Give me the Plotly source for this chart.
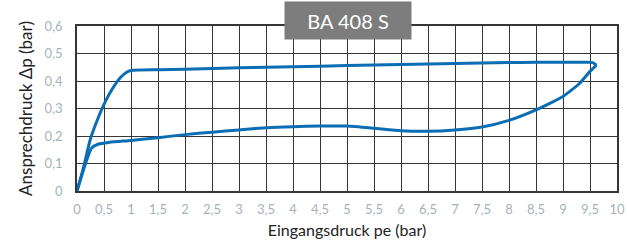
import plotly.graph_objects as go

# Upper branch (origin -> steep rise -> plateau -> tip)
upper_x = [0, 0.12, 0.25, 0.4, 0.5, 0.65, 0.8, 0.92, 1.0, 1.5, 2, 3, 4, 5, 6, 7, 8, 8.5, 9, 9.4, 9.55, 9.62]
upper_y = [0, 0.085, 0.19, 0.27, 0.315, 0.37, 0.412, 0.432, 0.438, 0.441, 0.443, 0.448, 0.452, 0.456, 0.460, 0.464, 0.467, 0.468, 0.468, 0.468, 0.467, 0.458]
# Lower branch (tip -> back to origin)
lower_x = [9.62, 9.5, 9.3, 9.0, 8.5, 8.0, 7.5, 7.0, 6.5, 6.0, 5.5, 5.0, 4.5, 4.0, 3.5, 3.0, 2.5, 2.0, 1.5, 1.0, 0.6, 0.4, 0.27, 0]
lower_y = [0.458, 0.435, 0.39, 0.344, 0.295, 0.257, 0.233, 0.222, 0.217, 0.219, 0.228, 0.236, 0.236, 0.234, 0.230, 0.222, 0.214, 0.205, 0.194, 0.184, 0.177, 0.171, 0.156, 0]

x_ticks = [i * 0.5 for i in range(21)]
x_labels = [("%g" % v).replace(".", ",") for v in x_ticks]
y_ticks = [0, 0.1, 0.2, 0.3, 0.4, 0.5, 0.6]
y_labels = [("%g" % v).replace(".", ",") for v in y_ticks]

blue = "#0b6db3"
fig = go.Figure()
fig.add_trace(go.Scatter(x=upper_x, y=upper_y, mode="lines",
                         line=dict(color=blue, width=3, shape="spline", smoothing=0.7),
                         showlegend=False, hoverinfo="skip"))
fig.add_trace(go.Scatter(x=lower_x, y=lower_y, mode="lines",
                         line=dict(color=blue, width=3, shape="spline", smoothing=0.5),
                         showlegend=False, hoverinfo="skip"))

tick_font = dict(family="Lato, Open Sans, sans-serif", size=13, color="#a7b2b8")
fig.update_layout(
    width=627, height=244,
    margin=dict(l=77, r=10, t=26, b=53),
    paper_bgcolor="white", plot_bgcolor="white",
    font=dict(family="Lato, Open Sans, sans-serif", color="#222"),
    xaxis=dict(range=[0, 10], tickvals=x_ticks, ticktext=x_labels, tickfont=tick_font,
               showgrid=True, gridcolor="#363636", gridwidth=1.3, automargin=False,
               showline=True, linecolor="#363636", linewidth=1.5, mirror=True,
               zeroline=False, ticks="", ticklabelstandoff=6,
               title=dict(text="Eingangsdruck pe (bar)", font=dict(size=16, color="#222"), standoff=8)),
    yaxis=dict(range=[0, 0.6], tickvals=y_ticks, ticktext=y_labels, tickfont=tick_font,
               showgrid=True, gridcolor="#363636", gridwidth=1.3, automargin=False,
               showline=True, linecolor="#363636", linewidth=1.5, mirror=True,
               zeroline=False, ticks="", ticklabelstandoff=10,
               title=dict(text="Ansprechdruck Δp (bar)", font=dict(size=17, color="#222"), standoff=8)),
)
fig.add_annotation(xref="paper", yref="paper", x=(348 - 77) / 540, y=1 + (26 - 20.5) / 165.5,
                   text="BA 408 S", showarrow=False, xanchor="center", yanchor="middle",
                   width=124, height=35, bgcolor="#7d7d7d",
                   font=dict(family="Lato, Open Sans, sans-serif", size=20, color="white"))
fig.write_html("out.html", config={"displayModeBar": False},
               post_script="document.body.style.margin='0px';document.body.style.overflow='hidden';")
